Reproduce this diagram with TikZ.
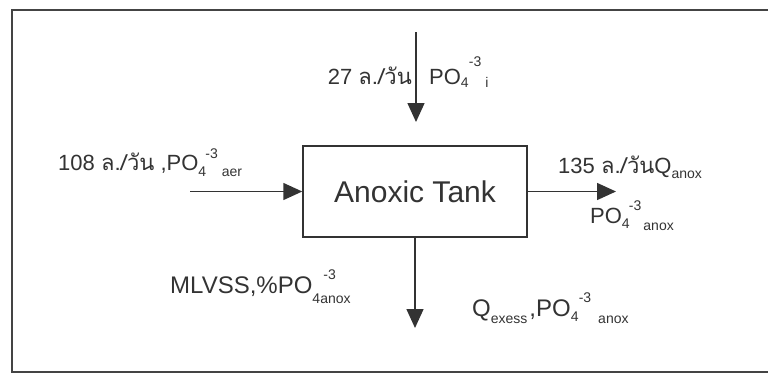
\documentclass[tikz,border=0pt]{standalone}
\usepackage{fontspec}
\setmainfont{Liberation Sans}
\newfontfamily\thaifont[Script=Thai]{Loma}
\newcommand{\thx}[1]{{\thaifont #1}}
\newcommand{\sbx}[2][-6pt]{\raisebox{#1}{\fontsize{14}{14}\selectfont #2}}
\newcommand{\spx}[2][12pt]{\raisebox{#1}{\fontsize{14}{14}\selectfont #2}}
\usetikzlibrary{arrows.meta}
\definecolor{ink}{HTML}{333333}
\definecolor{framecol}{HTML}{444444}
\tikzset{
  lbl/.style={inner sep=0pt, text=ink, font=\fontsize{22}{26}\selectfont},
  lblbig/.style={lbl, font=\fontsize{24}{28}\selectfont},
  flow/.style={draw=ink, line width=1.5pt, -{Triangle[length=19pt,width=17pt]}},
  tankbox/.style={draw=ink, line width=1.5pt, minimum width=224pt, minimum height=91pt, inner sep=0pt, text=ink, font=\fontsize{30}{34}\selectfont}
}
\begin{document}
\begin{tikzpicture}[x=1pt,y=-1pt]
\useasboundingbox (0,0) rectangle (768,375);
\draw[framecol, line width=2.5pt] (770,10) -- (12,10) -- (12,372) -- (770,372);
\node[tankbox] (tank) at (415,191.5) {Anoxic Tank};
% arrows
\coordinate (inT) at (416,32);
\coordinate (inTend) at (416,122);
\coordinate (inL) at (190,191.5);
\coordinate (outR) at (616,191.5);
\coordinate (outB) at (415,328);
\draw[flow] (inT) -- (inTend);
\draw[flow] (inL) -- (tank.west);
\draw[flow] (tank.east) -- (outR);
\draw[flow] (tank.south) -- (outB);
% labels
\node[lbl, anchor=base west] (lblL) at (58,170) {108 \thx{ล./วัน} ,PO\rlap{\sbx{4}}\hspace{7pt}\spx{-3}\hspace{4pt}\sbx{aer}};
\node[lbl, anchor=base east] (lblTa) at (412,84) {27 \thx{ล./วัน}};
\node[lbl, anchor=base west] (lblTb) at (429,84) {PO\rlap{\sbx[-3pt]{4}}\hspace{8pt}\spx[18pt]{-3}\hspace{4pt}\sbx[-3pt]{i}};
\node[lbl, anchor=base west] (lblRa) at (558,173) {135 \thx{ล./วัน}Q\sbx[-5pt]{anox}};
\node[lbl, anchor=base west] (lblRb) at (590,223) {PO\rlap{\sbx[-5pt]{4}}\hspace{7pt}\spx[13pt]{-3}\hspace{2pt}\sbx[-7pt]{anox}};
\node[lblbig, anchor=base west] (lblBa) at (170,293) {MLVSS,\%PO\rlap{\sbx[-10pt]{4anox}}\hspace{11pt}\spx[14pt]{-3}};
\node[lblbig, anchor=base west] (lblBb) at (472,316) {Q\sbx[-7pt]{exess}\hspace{2pt},PO\rlap{\sbx[-5pt]{4}}\hspace{8pt}\spx[14pt]{-3}\hspace{7pt}\sbx[-7pt]{anox}};
\end{tikzpicture}
\end{document}
